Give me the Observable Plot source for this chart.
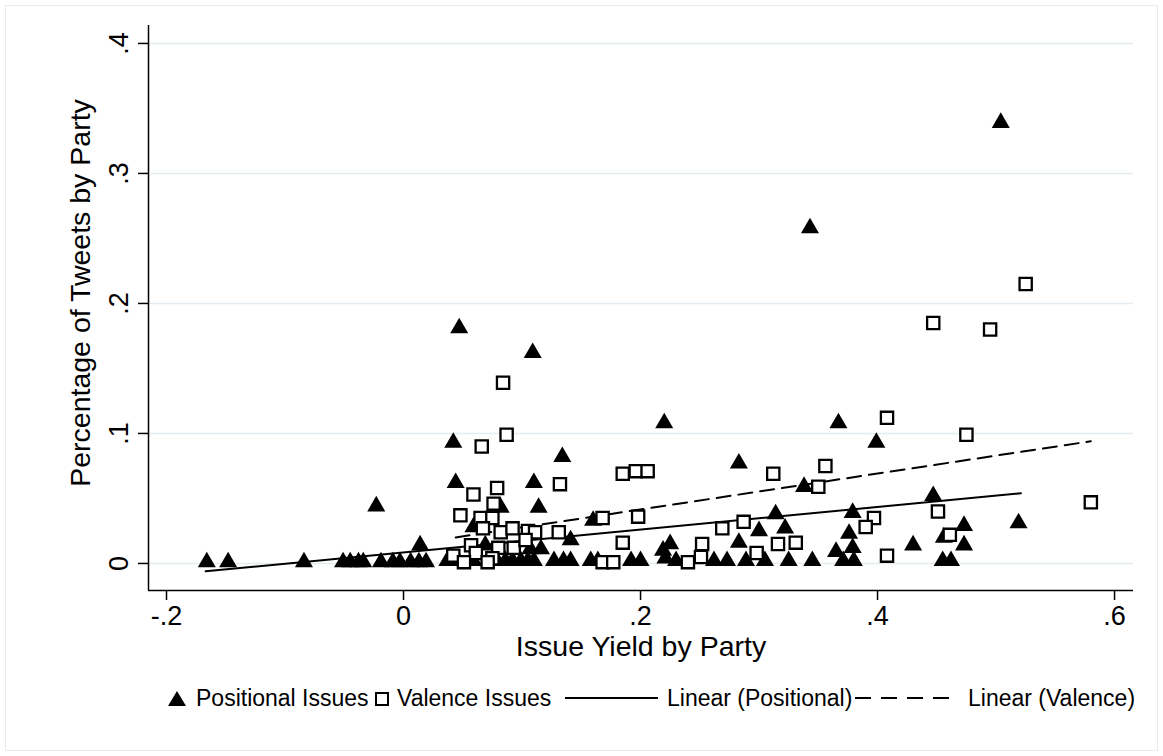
<!DOCTYPE html>
<html><head><meta charset="utf-8">
<script src="https://cdn.jsdelivr.net/npm/d3@7"></script>
<script src="https://cdn.jsdelivr.net/npm/@observablehq/plot@0.6"></script>
<style>
body{margin:0;background:#fff;font-family:"Liberation Sans",Arial,Helvetica,sans-serif;}
#wrap{position:relative;width:1163px;height:756px;overflow:hidden}
#border{position:absolute;left:5px;top:5px;width:1151px;height:744px;border:1px solid #e6edf0;pointer-events:none}
.lg{position:absolute;font-size:23px;line-height:23px;color:#000;white-space:nowrap}
.lgsvg{position:absolute}
</style></head><body>
<div id="wrap">
<div id="border"></div>
<div id="chart"></div>
<svg class="lgsvg" style="left:167px;top:690px" width="20" height="18"><path d="M10,1 L19,16 L1,16 Z" fill="#000"/></svg>
<div class="lg" style="left:196px;top:687px">Positional Issues</div>
<svg class="lgsvg" style="left:374px;top:691px" width="16" height="16"><rect x="2" y="2" width="12" height="12" fill="#fff" stroke="#000" stroke-width="2"/></svg>
<div class="lg" style="left:397px;top:687px">Valence Issues</div>
<svg class="lgsvg" style="left:565px;top:690px" width="94" height="16"><line x1="0" y1="8" x2="93" y2="8" stroke="#000" stroke-width="2"/></svg>
<div class="lg" style="left:667px;top:687px">Linear (Positional)</div>
<svg class="lgsvg" style="left:855px;top:690px" width="100" height="16"><line x1="0" y1="8" x2="99" y2="8" stroke="#000" stroke-width="2" stroke-dasharray="16,10"/></svg>
<div class="lg" style="left:968px;top:687px">Linear (Valence)</div>
</div>
<script>
// Positional issues (filled triangles)
const posX = [0.504,0.343,0.047,0.109,0.220,0.367,0.399,0.042,0.134,0.283,-0.023,0.044,0.110,0.114,0.082,0.338,0.447,0.314,0.379,0.300,0.322,0.283,0.376,0.379,0.365,0.430,0.473,0.456,0.473,0.455,0.462,0.519,-0.166,-0.148,-0.084,-0.051,-0.045,-0.038,-0.034,-0.019,-0.009,-0.003,0.006,0.013,0.019,0.014,0.059,0.160,0.141,0.116,0.107,0.069,0.225,0.219,0.221,0.037,0.046,0.059,0.071,0.079,0.086,0.092,0.099,0.105,0.110,0.127,0.135,0.141,0.158,0.164,0.192,0.200,0.230,0.262,0.273,0.289,0.305,0.325,0.345,0.371,0.380];
const posY = [0.339,0.258,0.181,0.162,0.108,0.108,0.093,0.093,0.082,0.077,0.044,0.062,0.062,0.043,0.043,0.059,0.052,0.038,0.039,0.025,0.027,0.016,0.023,0.012,0.009,0.014,0.029,0.020,0.014,0.002,0.002,0.031,0.001,0.001,0.001,0.001,0.001,0.001,0.001,0.001,0.001,0.001,0.001,0.001,0.001,0.014,0.028,0.033,0.018,0.011,0.011,0.014,0.015,0.010,0.004,0.002,0.002,0.002,0.002,0.002,0.002,0.002,0.002,0.002,0.002,0.002,0.002,0.002,0.002,0.002,0.002,0.002,0.002,0.002,0.002,0.002,0.002,0.002,0.002,0.002,0.002];
// Valence issues (hollow squares)
const valX = [0.525,0.447,0.495,0.084,0.408,0.475,0.087,0.066,0.185,0.196,0.206,0.312,0.356,0.350,0.132,0.059,0.079,0.076,0.048,0.065,0.075,0.067,0.082,0.092,0.105,0.111,0.131,0.168,0.198,0.185,0.057,0.080,0.093,0.103,0.042,0.061,0.075,0.051,0.071,0.168,0.177,0.240,0.251,0.252,0.269,0.287,0.298,0.316,0.331,0.397,0.390,0.408,0.451,0.461,0.580];
const valY = [0.215,0.185,0.180,0.139,0.112,0.099,0.099,0.090,0.069,0.071,0.071,0.069,0.075,0.059,0.061,0.053,0.058,0.046,0.037,0.035,0.035,0.027,0.024,0.027,0.025,0.024,0.024,0.035,0.036,0.016,0.014,0.012,0.012,0.018,0.006,0.008,0.004,0.001,0.001,0.001,0.001,0.001,0.005,0.015,0.027,0.032,0.008,0.015,0.016,0.035,0.028,0.006,0.040,0.022,0.047];
// Linear fits (endpoints)
const fitPosX = [-0.167, 0.521];
const fitPosY = [-0.006, 0.054];
const fitValX = [0.044, 0.580];
const fitValY = [0.020, 0.094];
// Ticks
const xTicks = [-0.2, 0, 0.2, 0.4, 0.6];
const yTicks = [0, 0.1, 0.2, 0.3, 0.4];
const xTitle = "Issue Yield by Party";
const yTitle = "Percentage of Tweets by Party";

const pos = posX.map((x,i)=>({x, y: posY[i]}));
const val = valX.map((x,i)=>({x, y: valY[i]}));
const fitPos = fitPosX.map((x,i)=>({x, y: fitPosY[i]}));
const fitVal = fitValX.map((x,i)=>({x, y: fitValY[i]}));
const fmt = d => d === 0 ? "0" : (d < 0 ? "-" : "") + d3.format(".1f")(Math.abs(d)).replace(/^0/, "");

const xDom = [-0.2152, 0.616];
const yDom = [-0.0208, 0.4138];

const chart = Plot.plot({
  width: 1163, height: 675,
  marginLeft: 148, marginRight: 30, marginTop: 25, marginBottom: 85,
  style: {fontFamily: "'Liberation Sans', Arial, Helvetica, sans-serif", background: "transparent", color: "#000", overflow: "visible"},
  x: {domain: xDom},
  y: {domain: yDom},
  marks: [
    Plot.ruleY(yTicks, {y: d => d, stroke: "#e3ecf0", strokeWidth: 1.5}),
    Plot.ruleX([xDom[0]], {stroke: "#000", strokeWidth: 1.5}),
    Plot.ruleY([yDom[0]], {stroke: "#000", strokeWidth: 1.5}),
    Plot.axisX({ticks: xTicks, tickSize: 10, tickPadding: 5, tickFormat: fmt, fontSize: 27, label: null, strokeWidth: 1.5}),
    Plot.axisY({ticks: yTicks, tickSize: 10, tickFormat: () => "", label: null, strokeWidth: 1.5}),
    Plot.text(yTicks, {y: d => d, frameAnchor: "left", text: fmt, rotate: -90, dx: -29, fontSize: 27, textAnchor: "middle", lineAnchor: "middle"}),
    Plot.text([xTitle], {frameAnchor: "bottom", dy: 56, fontSize: 28.5, lineAnchor: "middle"}),
    Plot.text([yTitle], {frameAnchor: "left", rotate: -90, dx: -68, dy: -15, fontSize: 28.5, textAnchor: "middle", lineAnchor: "middle"}),
    Plot.line(fitPos, {x: "x", y: "y", stroke: "#000", strokeWidth: 2}),
    Plot.line(fitVal, {x: "x", y: "y", stroke: "#000", strokeWidth: 2, strokeDasharray: "14,8"}),
    Plot.dot(pos, {x: "x", y: "y", symbol: "triangle", r: 6.7, fill: "#000"}),
    Plot.dot(val, {x: "x", y: "y", symbol: "square", r: 6.9, fill: "#fff", stroke: "#000", strokeWidth: 2.3})
  ]
});
chart.style.position = "absolute";
chart.style.left = "0px";
chart.style.top = "0px";
document.getElementById("chart").appendChild(chart);
</script>
</body></html>
